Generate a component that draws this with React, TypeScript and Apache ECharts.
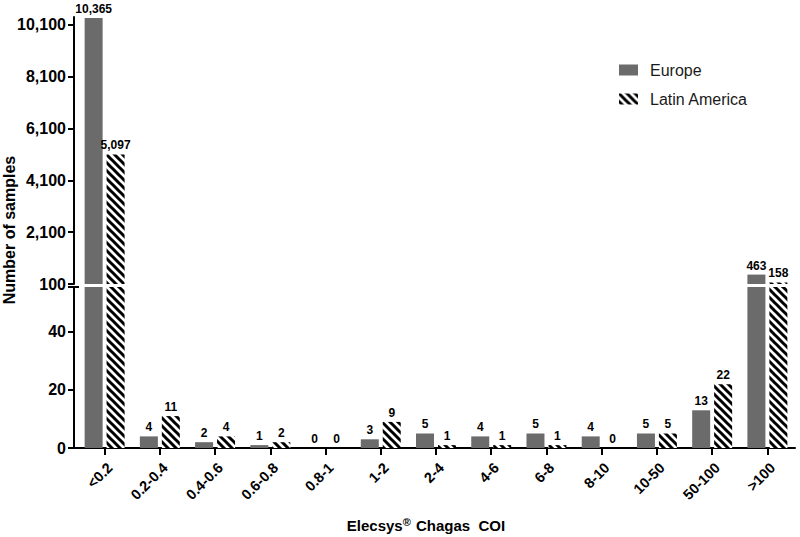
import React, { useEffect, useRef } from "react";
import * as echarts from "echarts";

const categories = ["<0.2", "0.2-0.4", "0.4-0.6", "0.6-0.8", "0.8-1", "1-2", "2-4", "4-6", "6-8", "8-10", "10-50", "50-100", ">100"];
const europe = [10365, 4, 2, 1, 0, 3, 5, 4, 5, 4, 5, 13, 463];
const latinAmerica = [5097, 11, 4, 2, 0, 9, 1, 1, 1, 0, 5, 22, 158];
const upperTicks = [100, 2100, 4100, 6100, 8100, 10100];
const lowerTicks = [0, 20, 40];
const UPPER_MIN = 100;
const UPPER_MAX = 10400;
const LOWER_MAX = 55.5;

const FONT = "Liberation Sans, Arial, sans-serif";

function makeStripes(): HTMLCanvasElement {
  const size = 8;
  const c = document.createElement("canvas");
  c.width = size;
  c.height = size;
  const ctx = c.getContext("2d")!;
  ctx.fillStyle = "#ffffff";
  ctx.fillRect(0, 0, size, size);
  ctx.strokeStyle = "#000000";
  ctx.lineWidth = 3;
  ctx.beginPath();
  for (let k = -1; k <= 1; k++) {
    ctx.moveTo(k * size - 2, -2);
    ctx.lineTo(k * size + size + 2, size + 2);
  }
  ctx.stroke();
  return c;
}

const fmt = (v: number) => v.toLocaleString("en-US");

export default function App() {
  const ref = useRef<HTMLDivElement>(null);
  useEffect(() => {
    if (!ref.current) return;
    const chart = echarts.init(ref.current, null, { renderer: "svg" });
    const stripes = makeStripes();
    const pattern: any = { image: stripes, repeat: "repeat", imageWidth: 8, imageHeight: 8 };
    const grey = "#6b6b6b";

    const lowerData = (arr: number[]) => arr.map((v) => Math.min(v, LOWER_MAX));
    const upperData = (arr: number[]) => arr.map((v) => (v > UPPER_MIN ? v : "-"));

    const labelBase = {
      show: true,
      position: "top" as const,
      distance: 3,
      fontSize: 12,
      fontWeight: "bold" as const,
      color: "#000",
      fontFamily: FONT,
    };

    const mkLowerLabel = (orig: number[]) => ({
      ...labelBase,
      formatter: (p: any) => (orig[p.dataIndex] > UPPER_MIN ? "" : fmt(orig[p.dataIndex])),
    });
    const mkUpperLabel = (orig: number[]) => ({
      ...labelBase,
      formatter: (p: any) => fmt(orig[p.dataIndex]),
    });

    const xCommon = {
      type: "category" as const,
      data: categories,
      boundaryGap: true,
    };

    const option: any = {
      animation: false,
      backgroundColor: "#ffffff",
      textStyle: { fontFamily: FONT },
      legend: {
        orient: "vertical",
        left: 619,
        top: 62,
        padding: 0,
        itemWidth: 19,
        itemHeight: 11,
        itemGap: 13,
        icon: "rect",
        textStyle: { fontSize: 16, color: "#1a1a1a", fontFamily: FONT, padding: [0, 0, 0, 7] },
        data: ["Europe", "Latin America"],
      },
      grid: [
        { left: 77, right: 5, top: 17, height: 267 },
        { left: 77, right: 5, top: 287, height: 161 },
      ],
      xAxis: [
        { ...xCommon, gridIndex: 0, show: false },
        {
          ...xCommon,
          gridIndex: 1,
          axisLine: { show: true, lineStyle: { color: "#000", width: 2 } },
          axisTick: { show: true, alignWithLabel: true, length: 7, lineStyle: { color: "#000", width: 2 } },
          axisLabel: {
            rotate: 45,
            margin: 12,
            verticalAlign: "top",
            fontSize: 14.5,
            fontWeight: "bold",
            color: "#000",
            fontFamily: FONT,
            interval: 0,
          },
        },
      ],
      yAxis: [
        {
          type: "value",
          gridIndex: 0,
          min: UPPER_MIN,
          max: UPPER_MAX,
          offset: 3,
          splitLine: { show: false },
          axisLine: { show: true, lineStyle: { color: "#000", width: 2 } },
          axisTick: { show: true, length: 6, lineStyle: { color: "#000", width: 2 }, customValues: upperTicks },
          axisLabel: {
            customValues: upperTicks,
            formatter: (v: number) => fmt(v),
            fontSize: 16,
            fontWeight: "bold",
            color: "#000",
            fontFamily: FONT,
            margin: 8,
          },
        },
        {
          type: "value",
          gridIndex: 1,
          min: 0,
          max: LOWER_MAX,
          offset: 3,
          splitLine: { show: false },
          axisLine: { show: true, lineStyle: { color: "#000", width: 2 } },
          axisTick: { show: true, length: 6, lineStyle: { color: "#000", width: 2 }, customValues: lowerTicks },
          axisLabel: {
            customValues: lowerTicks,
            fontSize: 16,
            fontWeight: "bold",
            color: "#000",
            fontFamily: FONT,
            margin: 8,
          },
        },
      ],
      series: [
        {
          name: "Europe",
          type: "bar",
          xAxisIndex: 1,
          yAxisIndex: 1,
          data: lowerData(europe),
          barWidth: 18,
          barGap: "22%",
          clip: true,
          itemStyle: { color: grey },
          label: mkLowerLabel(europe),
        },
        {
          name: "Latin America",
          type: "bar",
          xAxisIndex: 1,
          yAxisIndex: 1,
          data: lowerData(latinAmerica),
          barWidth: 18,
          barGap: "22%",
          clip: true,
          itemStyle: { color: pattern },
          label: mkLowerLabel(latinAmerica),
        },
        {
          name: "Europe",
          type: "bar",
          xAxisIndex: 0,
          yAxisIndex: 0,
          data: upperData(europe),
          barWidth: 18,
          barGap: "22%",
          clip: true,
          itemStyle: { color: grey },
          label: mkUpperLabel(europe),
        },
        {
          name: "Latin America",
          type: "bar",
          xAxisIndex: 0,
          yAxisIndex: 0,
          data: upperData(latinAmerica),
          barWidth: 18,
          barGap: "22%",
          clip: true,
          itemStyle: { color: pattern },
          label: mkUpperLabel(latinAmerica),
        },
      ],
      graphic: [
        {
          type: "text",
          x: 9,
          y: 230,
          rotation: Math.PI / 2,
          style: {
            text: "Number of samples",
            fontSize: 16,
            fontWeight: "bold",
            fill: "#000",
            fontFamily: FONT,
            align: "center",
            verticalAlign: "middle",
          },
        },
        {
          type: "text",
          x: 426,
          y: 525,
          style: {
            text: "Elecsys{sup|®} Chagas  COI",
            fontSize: 15,
            fontWeight: "bold",
            fill: "#000",
            fontFamily: FONT,
            align: "center",
            verticalAlign: "middle",
            rich: {
              sup: { fontSize: 11, fontWeight: "bold", fill: "#000", fontFamily: FONT, verticalAlign: "top", padding: [0, 1, 6, 0] },
            },
          },
        },
        {
          type: "line",
          shape: { x1: 68, y1: 287, x2: 79, y2: 287 },
          style: { stroke: "#000", lineWidth: 2 },
        },
        {
          type: "line",
          shape: { x1: 73, y1: 448, x2: 78, y2: 448 },
          style: { stroke: "#000", lineWidth: 2 },
        },
      ],
    };
    chart.setOption(option);
    return () => chart.dispose();
  }, []);
  return <div ref={ref} style={{ position: "absolute", left: 0, top: 0, width: 800, height: 537 }} />;
}
